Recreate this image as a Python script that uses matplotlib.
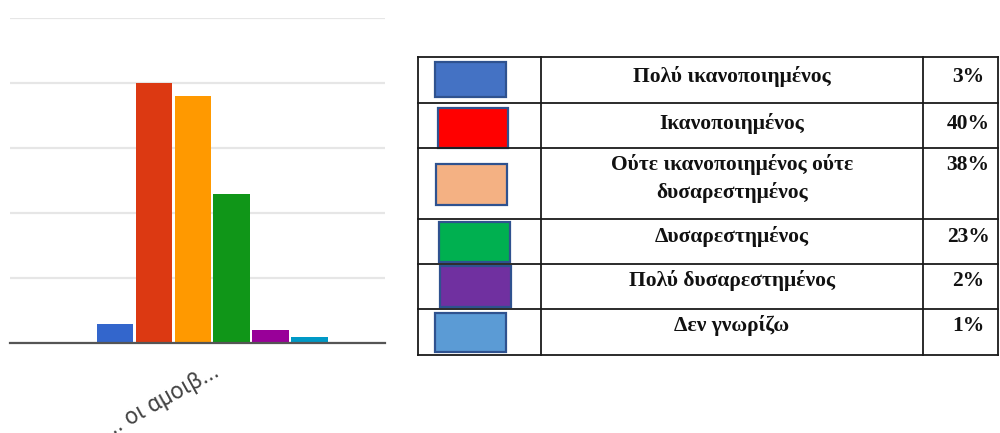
import matplotlib
matplotlib.use("Agg")
import matplotlib.pyplot as plt
from matplotlib.patches import Rectangle

# data
answers = ["Πολύ ικανοποιημένος", "Ικανοποιημένος",
           "Ούτε ικανοποιημένος ούτε\nδυσαρεστημένος", "Δυσαρεστημένος",
           "Πολύ δυσαρεστημένος", "Δεν γνωρίζω"]
percent = [3, 40, 38, 23, 2, 1]
pct_labels = ["3%", "40%", "38%", "23%", "2%", "1%"]
question = "... οι αμοιβ..."

bar_colors = ["#3366cc", "#dc3912", "#ff9900", "#109618", "#990099", "#0099c6"]
swatch_colors = ["#4472c4", "#ff0000", "#f4b183", "#00b050", "#7030a0", "#5b9bd5"]

W, H = 1000, 433
fig = plt.figure(figsize=(W / 100, H / 100), dpi=100)

# ---- bar chart (left) ----
ax = fig.add_axes([10 / W, (H - 343) / H, 375 / W, 325 / H])
n = len(percent)
pitch = 1.0 / n
for i, (v, c) in enumerate(zip(percent, bar_colors)):
    ax.bar(-0.5 + pitch * (i + 0.5), v, width=pitch * 0.93, color=c, zorder=2)
ax.set_xlim(-0.865, 0.74)
ax.set_ylim(0, 50)
ax.set_yticks([0, 10, 20, 30, 40, 50])
ax.yaxis.grid(True, color="#e6e6e6", lw=1.6, zorder=0)
ax.tick_params(axis="y", left=False, labelleft=False)
ax.set_xticks([0])
ax.set_xticklabels([question], rotation=29, ha="right", rotation_mode="anchor",
                   family="Roboto", fontsize=16.5, color="#444444")
ax.tick_params(axis="x", length=0, pad=12)
for s in ["top", "left", "right"]:
    ax.spines[s].set_visible(False)
ax.spines["bottom"].set_color("#555555")
ax.spines["bottom"].set_linewidth(1.6)
ax.spines["bottom"].set_zorder(3)

# ---- legend table (right) ----
tx = fig.add_axes([0, 0, 1, 1])
tx.set_xlim(0, W)
tx.set_ylim(H, 0)
tx.axis("off")

row_edges = [57.3, 102.7, 148.3, 219.3, 264.3, 309.3, 355]
col_edges = [418, 540.7, 922.7, 998]
line_kw = dict(color="#1a1a1a", lw=1.3)
for y in row_edges:
    tx.plot([col_edges[0], col_edges[-1]], [y, y], **line_kw)
for x in col_edges:
    tx.plot([x, x], [row_edges[0], row_edges[-1]], **line_kw)

swatch_boxes = [(435, 62, 506, 96.7), (437.7, 108.3, 508, 148),
                (436.3, 164.3, 507.3, 205), (439, 222.3, 509.7, 262.3),
                (440, 265.7, 511, 306.7), (435, 313.3, 505.7, 351.7)]
for (x0, y0, x1, y1), c in zip(swatch_boxes, swatch_colors):
    tx.add_patch(Rectangle((x0, y0), x1 - x0, y1 - y0, facecolor=c,
                           edgecolor="#2f528f", lw=1.6))

baselines = [81.7, 129, 170, 241.7, 286, 331]
line_gap = 28
font = dict(family="Liberation Serif", weight="bold", fontsize=15.5, color="#111111")
for lab, pl, yb in zip(answers, pct_labels, baselines):
    for k, part in enumerate(lab.split("\n")):
        tx.text(731.7, yb + k * line_gap, part, ha="center", va="baseline", **font)
    tx.text(968, yb, pl, ha="center", va="baseline", **font)

fig.savefig("out.png", dpi=100)
